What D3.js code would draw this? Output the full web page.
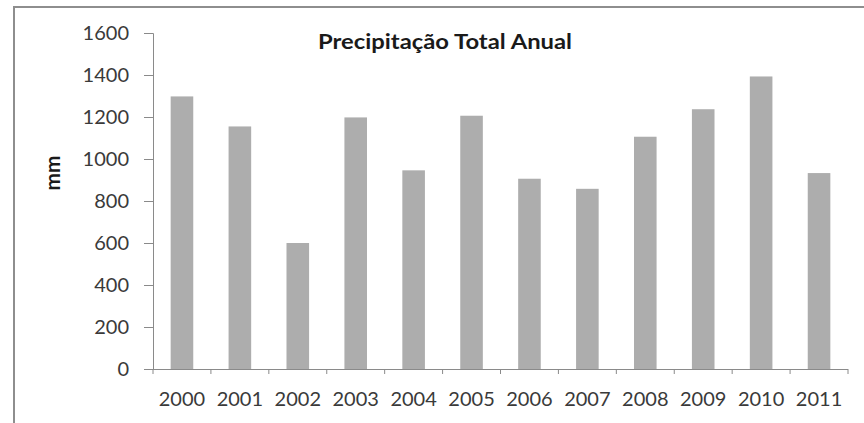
<!DOCTYPE html>
<html>
<head>
<meta charset="utf-8">
<script src="https://cdn.jsdelivr.net/npm/d3@7"></script>
<style>
  html, body { margin: 0; padding: 0; background: #fff; }
  svg { display: block; }
</style>
</head>
<body>
<svg id="chart" width="864" height="423"></svg>
<script>
// Annual total precipitation, mm
const years = ["2000", "2001", "2002", "2003", "2004", "2005", "2006", "2007", "2008", "2009", "2010", "2011"];
const precipitation = [1298, 1155, 600, 1198, 946, 1206, 906, 858, 1106, 1237, 1393, 933];
const yTicks = [0, 200, 400, 600, 800, 1000, 1200, 1400, 1600];
const title = "Precipitação Total Anual";
const yLabel = "mm";

const svg = d3.select("#chart");
const font = "Lato, 'Open Sans', sans-serif";

// outer chart frame (runs past the right and bottom edges)
svg.append("rect")
  .attr("x", 14).attr("y", 7)
  .attr("width", 880).attr("height", 440)
  .attr("fill", "#fff")
  .attr("stroke", "#8e8e8e")
  .attr("stroke-width", 2);

const plot = { left: 153, right: 848, top: 33, bottom: 369 };

const x = d3.scaleBand()
  .domain(years)
  .range([plot.left, plot.right])
  .paddingInner(0.61)
  .paddingOuter(0.305);

const y = d3.scaleLinear()
  .domain([0, 1600])
  .range([plot.bottom, plot.top]);

// bars
svg.append("g")
  .selectAll("rect")
  .data(years.map((yr, i) => ({ yr, v: precipitation[i] })))
  .join("rect")
  .attr("x", d => x(d.yr))
  .attr("y", d => y(d.v))
  .attr("width", x.bandwidth())
  .attr("height", d => y(0) - y(d.v))
  .attr("fill", "#adadad");

// y axis
const yAxis = svg.append("g")
  .attr("transform", `translate(${plot.left},0)`)
  .call(d3.axisLeft(y).tickValues(yTicks).tickSize(9).tickPadding(15).tickFormat(d3.format("d")));

// x axis: ticks sit on the category boundaries
const xAxis = svg.append("g")
  .attr("transform", `translate(0,${plot.bottom})`)
  .call(d3.axisBottom(x).tickSize(0).tickPadding(23));

const step = x.step();
const boundaries = d3.range(years.length + 1).map(i => plot.left + i * step);
xAxis.selectAll("line.boundary")
  .data(boundaries)
  .join("line")
  .attr("class", "boundary")
  .attr("x1", d => d).attr("x2", d => d)
  .attr("y1", 0).attr("y2", 5)
  .attr("stroke", "#8a8a8a");

[yAxis, xAxis].forEach(g => {
  g.select(".domain").attr("stroke", "#8a8a8a").attr("stroke-width", 1);
  g.selectAll(".tick line").attr("stroke", "#8a8a8a");
  g.selectAll(".tick text")
    .attr("fill", "#3a3a3a")
    .style("font-family", font)
    .style("font-size", "20px");
});
xAxis.select(".domain").attr("d", `M${plot.left - 9},0.5H${plot.right}`);

// title
svg.append("text")
  .attr("x", 445).attr("y", 49)
  .attr("text-anchor", "middle")
  .attr("fill", "#1a1a1a")
  .attr("textLength", 254)
  .attr("lengthAdjust", "spacingAndGlyphs")
  .style("font-family", font)
  .style("font-weight", "bold")
  .style("font-size", "21px")
  .text(title);

// y axis title
svg.append("text")
  .attr("transform", "translate(60,173) rotate(-90)")
  .attr("text-anchor", "middle")
  .attr("fill", "#1a1a1a")
  .attr("textLength", 35)
  .attr("lengthAdjust", "spacingAndGlyphs")
  .style("font-family", font)
  .style("font-weight", "bold")
  .style("font-size", "20px")
  .text(yLabel);
</script>
</body>
</html>
